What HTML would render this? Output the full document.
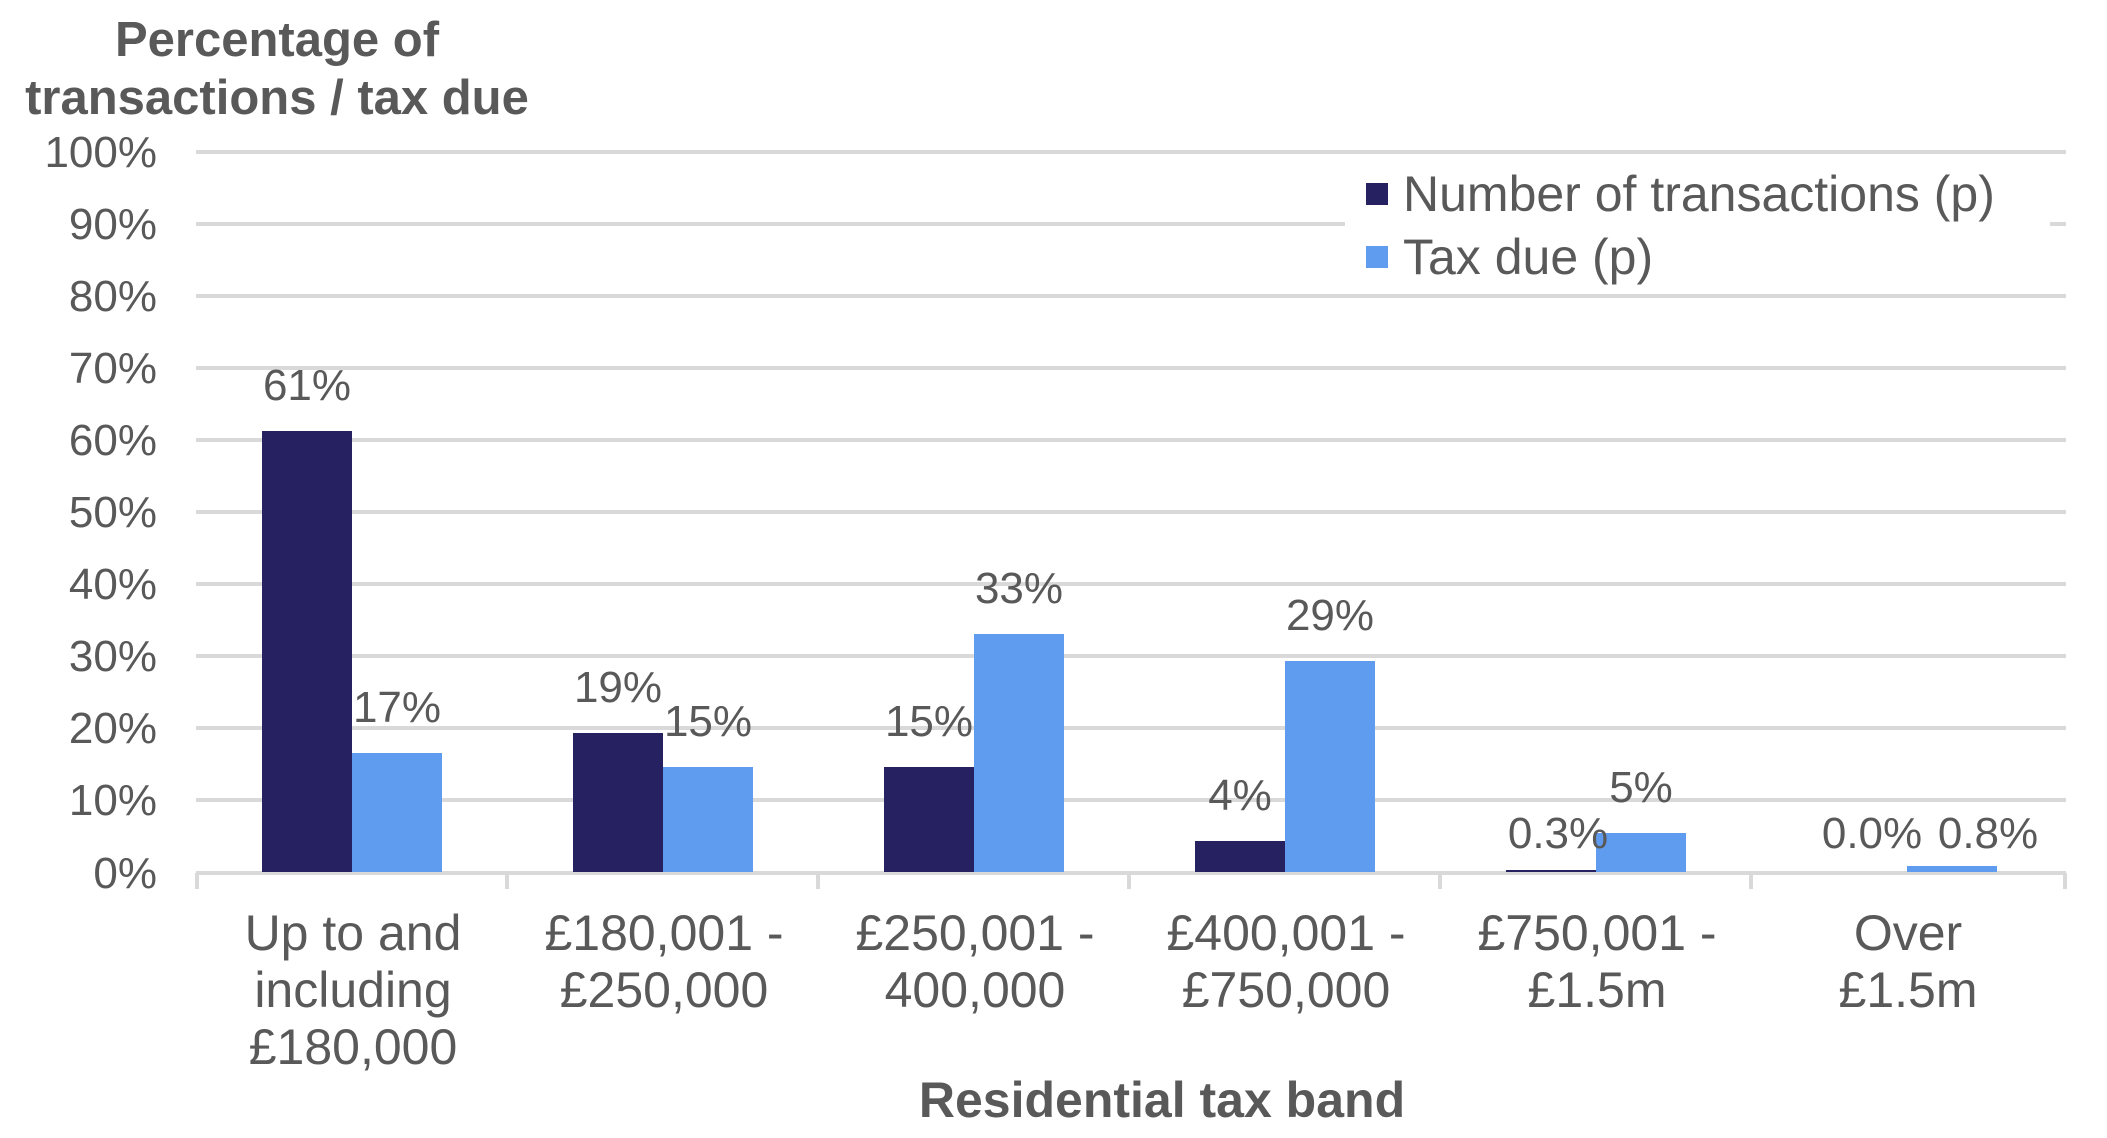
<!DOCTYPE html>
<html><head><meta charset="utf-8"><style>
html,body{margin:0;padding:0;background:#fff}
svg{display:block}
text{font-family:"Liberation Sans",Arial,sans-serif;fill:#595959}
</style></head><body>
<svg width="2107" height="1138" viewBox="0 0 2107 1138" xmlns="http://www.w3.org/2000/svg">
<g stroke="#d9d9d9" stroke-width="4">
<line x1="196" y1="152" x2="2066" y2="152"/>
<line x1="196" y1="224" x2="2066" y2="224"/>
<line x1="196" y1="296" x2="2066" y2="296"/>
<line x1="196" y1="368" x2="2066" y2="368"/>
<line x1="196" y1="440" x2="2066" y2="440"/>
<line x1="196" y1="512" x2="2066" y2="512"/>
<line x1="196" y1="584" x2="2066" y2="584"/>
<line x1="196" y1="656" x2="2066" y2="656"/>
<line x1="196" y1="728" x2="2066" y2="728"/>
<line x1="196" y1="800" x2="2066" y2="800"/>
<line x1="196" y1="873" x2="2066" y2="873"/>
<line x1="197" y1="873" x2="197" y2="889"/>
<line x1="507" y1="873" x2="507" y2="889"/>
<line x1="818" y1="873" x2="818" y2="889"/>
<line x1="1129" y1="873" x2="1129" y2="889"/>
<line x1="1440" y1="873" x2="1440" y2="889"/>
<line x1="1751" y1="873" x2="1751" y2="889"/>
<line x1="2065" y1="873" x2="2065" y2="889"/>
</g>
<rect x="1345" y="180" width="705" height="95" fill="#fff"/>
<g font-size="44" text-anchor="end">
<text x="157" y="167">100%</text><text x="157" y="239">90%</text><text x="157" y="311">80%</text>
<text x="157" y="383">70%</text><text x="157" y="455">60%</text><text x="157" y="527">50%</text>
<text x="157" y="599">40%</text><text x="157" y="671">30%</text><text x="157" y="743">20%</text>
<text x="157" y="815">10%</text><text x="157" y="888">0%</text>
</g>
<text x="277" y="56" font-size="49" font-weight="bold" text-anchor="middle">Percentage of</text>
<text x="277" y="114" font-size="49" font-weight="bold" text-anchor="middle">transactions / tax due</text>
<g fill="#262262">
<rect x="262" y="431" width="90" height="441"/>
<rect x="573" y="733" width="90" height="139"/>
<rect x="884" y="767" width="90" height="105"/>
<rect x="1195" y="841" width="90" height="31"/>
<rect x="1506" y="870" width="90" height="2"/>
</g>
<g fill="#5f9cef">
<rect x="352" y="753" width="90" height="119"/>
<rect x="663" y="767" width="90" height="105"/>
<rect x="974" y="634" width="90" height="238"/>
<rect x="1285" y="661" width="90" height="211"/>
<rect x="1596" y="833" width="90" height="39"/>
<rect x="1907" y="866" width="90" height="6"/>
</g>
<g font-size="44" text-anchor="middle">
<text x="307" y="400">61%</text><text x="397" y="722">17%</text>
<text x="618" y="702">19%</text><text x="708" y="736">15%</text>
<text x="929" y="736">15%</text><text x="1019" y="603">33%</text>
<text x="1240" y="810">4%</text><text x="1330" y="630">29%</text>
<text x="1558" y="848">0.3%</text><text x="1641" y="802">5%</text>
<text x="1872" y="848">0.0%</text><text x="1988" y="848">0.8%</text>
</g>
<g font-size="50" text-anchor="middle">
<text x="353" y="950">Up to and</text><text x="353" y="1007">including</text><text x="353" y="1064">£180,000</text>
<text x="664" y="950">£180,001 -</text><text x="664" y="1007">£250,000</text>
<text x="975" y="950">£250,001 -</text><text x="975" y="1007">400,000</text>
<text x="1286" y="950">£400,001 -</text><text x="1286" y="1007">£750,000</text>
<text x="1597" y="950">£750,001 -</text><text x="1597" y="1007">£1.5m</text>
<text x="1908" y="950">Over</text><text x="1908" y="1007">£1.5m</text>
</g>
<text x="1162" y="1117" font-size="50" font-weight="bold" text-anchor="middle">Residential tax band</text>
<rect x="1366" y="183" width="22" height="22" fill="#262262"/>
<text x="1403" y="211" font-size="50">Number of transactions (p)</text>
<rect x="1366" y="246" width="22" height="22" fill="#5f9cef"/>
<text x="1403" y="274" font-size="50">Tax due (p)</text>
</svg>
</body></html>
